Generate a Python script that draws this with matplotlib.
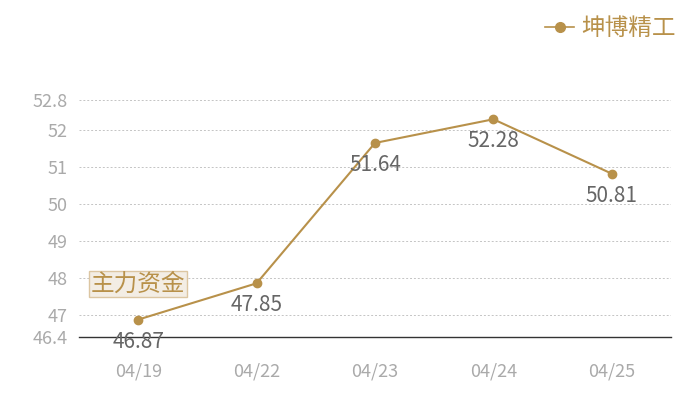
import matplotlib
matplotlib.use("Agg")
import matplotlib.pyplot as plt
from matplotlib.lines import Line2D

plt.rcParams['font.family'] = ['Noto Sans CJK SC', 'DejaVu Sans']

dates = ["04/19", "04/22", "04/23", "04/24", "04/25"]
values = [46.87, 47.85, 51.64, 52.28, 50.81]
series_name = "坤博精工"
yticks = [46.4, 47, 48, 49, 50, 51, 52, 52.8]
ytick_labels = ["46.4", "47", "48", "49", "50", "51", "52", "52.8"]
badge_text = "主力资金"

gold = "#b8914a"
fig = plt.figure(figsize=(7, 4), dpi=100)
ax = fig.add_axes([79/700, 63/400, 592/700, 237/400])
x = list(range(len(dates)))
ax.plot(x, values, color=gold, lw=1.5, marker='o', ms=6, zorder=3)
ax.set_xlim(-0.5, len(dates) - 0.5)
ax.set_ylim(46.4, 52.8)
ax.set_yticks(yticks)
ax.set_yticklabels(ytick_labels)
ax.set_xticks(x)
ax.set_xticklabels(dates)
for t in yticks[1:]:
    ax.axhline(t, color="#c4c4c4", lw=0.7, ls=(0, (2, 2)), zorder=1)
for s in ["top", "right", "left"]:
    ax.spines[s].set_visible(False)
ax.spines["bottom"].set_color("#333333")
ax.spines["bottom"].set_linewidth(1)
ax.tick_params(axis='both', length=0, colors="#aaaaaa", labelsize=13)
ax.tick_params(axis='x', pad=18)
ax.tick_params(axis='y', pad=8)
for xi, v in zip(x, values):
    ax.annotate(f"{v:.2f}", (xi, v), xytext=(0, -8), textcoords="offset points",
                ha="center", va="top", fontsize=15, color="#666666", zorder=4)

fig.text(91/700, 1 - 284/400, badge_text, fontsize=17, color=gold, va="center", ha="left",
         bbox=dict(boxstyle="square,pad=0.08", fc="#f3ede4", ec="#dcc6a2", lw=1))

handle = Line2D([], [], color=gold, marker='o', ms=7, lw=1.2)
fig.legend([handle], [series_name], loc="upper right", bbox_to_anchor=(0.995, 1.01),
           frameon=False, fontsize=17, labelcolor=gold, handlelength=1.2, handletextpad=0.3)

fig.savefig("out.png", dpi=100)
